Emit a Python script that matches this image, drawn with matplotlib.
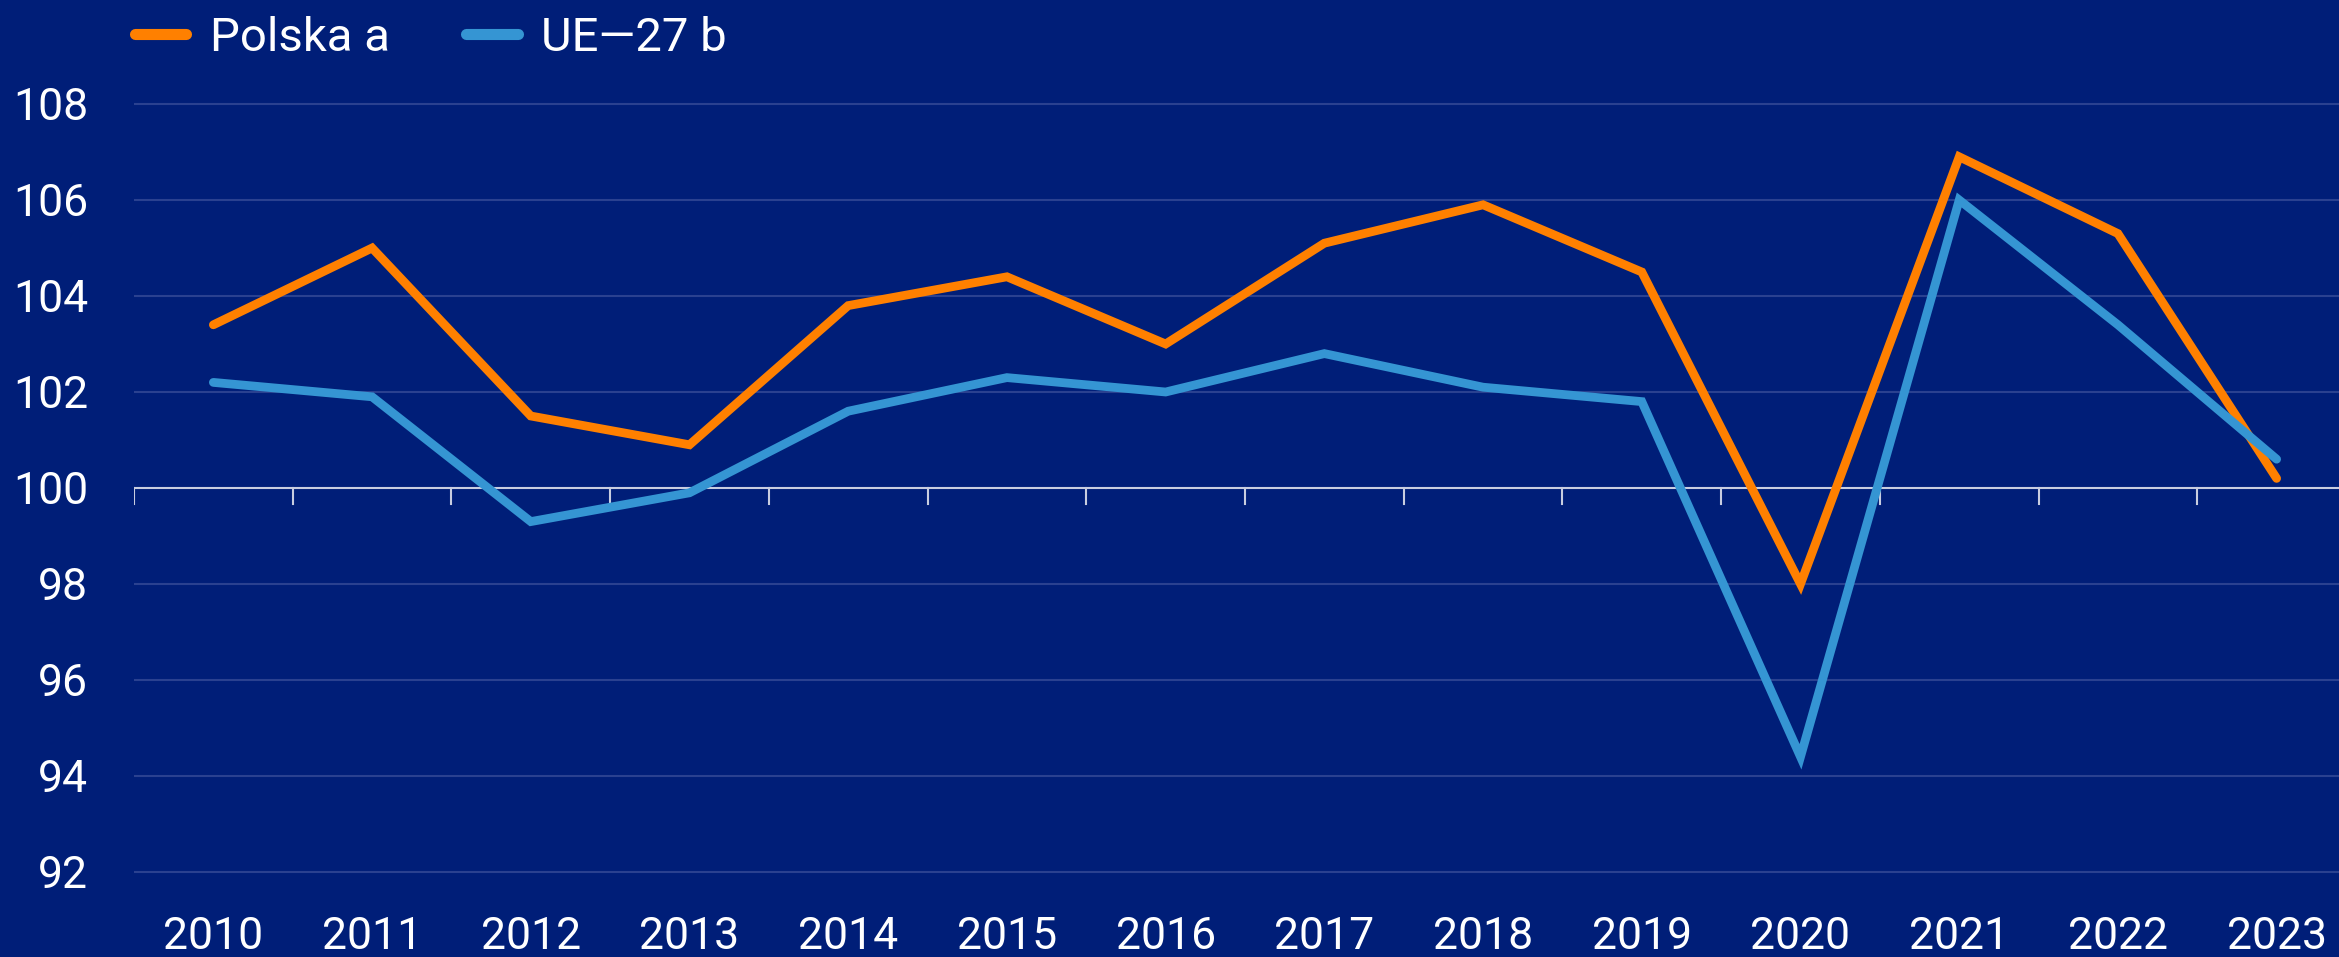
import matplotlib
matplotlib.use("Agg")
import matplotlib.pyplot as plt
from matplotlib import font_manager

years = [2010, 2011, 2012, 2013, 2014, 2015, 2016, 2017, 2018, 2019, 2020, 2021, 2022, 2023]
polska = [103.4, 105.0, 101.5, 100.9, 103.8, 104.4, 103.0, 105.1, 105.9, 104.5, 98.0, 106.9, 105.3, 100.2]
ue27 = [102.2, 101.9, 99.3, 99.9, 101.6, 102.3, 102.0, 102.8, 102.1, 101.8, 94.4, 106.0, 103.4, 100.6]
yticks = [92, 94, 96, 98, 100, 102, 104, 106, 108]
labels = ["Polska a", "UE\u201427 b"]

bg = "#001e78"
orange = "#ff8000"
blue = "#3595d3"
grid_c = "#2a4190"

names = {f.name for f in font_manager.fontManager.ttflist}
fam = "Liberation Sans Narrow" if "Liberation Sans Narrow" in names else "Roboto"
plt.rcParams["font.family"] = [fam, "DejaVu Sans"]

W, H = 2339, 957
left_px, bottom_gap = 134, 60
axes_w = 2222  # the category band runs a little past the right edge
fig = plt.figure(figsize=(W / 100, H / 100), dpi=100, facecolor=bg)
ax = fig.add_axes([left_px / W, bottom_gap / H, axes_w / W, 1 - bottom_gap / H])
ax.set_facecolor(bg)

x = list(range(len(years)))
ax.plot(x, polska, color=orange, lw=6.3, solid_capstyle="round", solid_joinstyle="miter", label=labels[0], zorder=3)
ax.plot(x, ue27, color=blue, lw=6.3, solid_capstyle="round", solid_joinstyle="miter", label=labels[1], zorder=3)

ax.set_xlim(-0.5, len(years) - 0.5)
# pixel mapping: 108 -> y=104, 92 -> y=872
ppu = 48.0
ax.set_ylim(92 - ((H - bottom_gap) - 872) / ppu, 108 + 104 / ppu)

for s in ax.spines.values():
    s.set_visible(False)

ax.set_yticks(yticks)
ax.set_yticklabels([str(v) for v in yticks])
for v in yticks:
    if v != 100:
        ax.axhline(v, color=grid_c, lw=1.5, zorder=1)
ax.axhline(100, color="#c8cde0", lw=1.5, zorder=2)
for b in range(len(years)):
    ax.plot([b - 0.5, b - 0.5], [100, 100 - 16 / ppu], color="#c8cde0", lw=1.5, zorder=2)

ax.tick_params(axis="y", length=0, pad=33, labelsize=32, labelcolor="white")
ax.set_xticks(x)
ax.set_xticklabels([str(y) for y in years])
ax.tick_params(axis="x", length=0, pad=14, labelsize=32, labelcolor="white")

leg = fig.legend(loc="upper left", bbox_to_anchor=(92 / W, 1.028), ncol=2, frameon=False,
                 fontsize=34, handlelength=1.1, handletextpad=0.5, columnspacing=1.6,
                 labelcolor="white")
for h in leg.get_lines():
    h.set_linewidth(8)
    h.set_solid_capstyle("round")

fig.savefig("out.png", dpi=100, facecolor=bg)
